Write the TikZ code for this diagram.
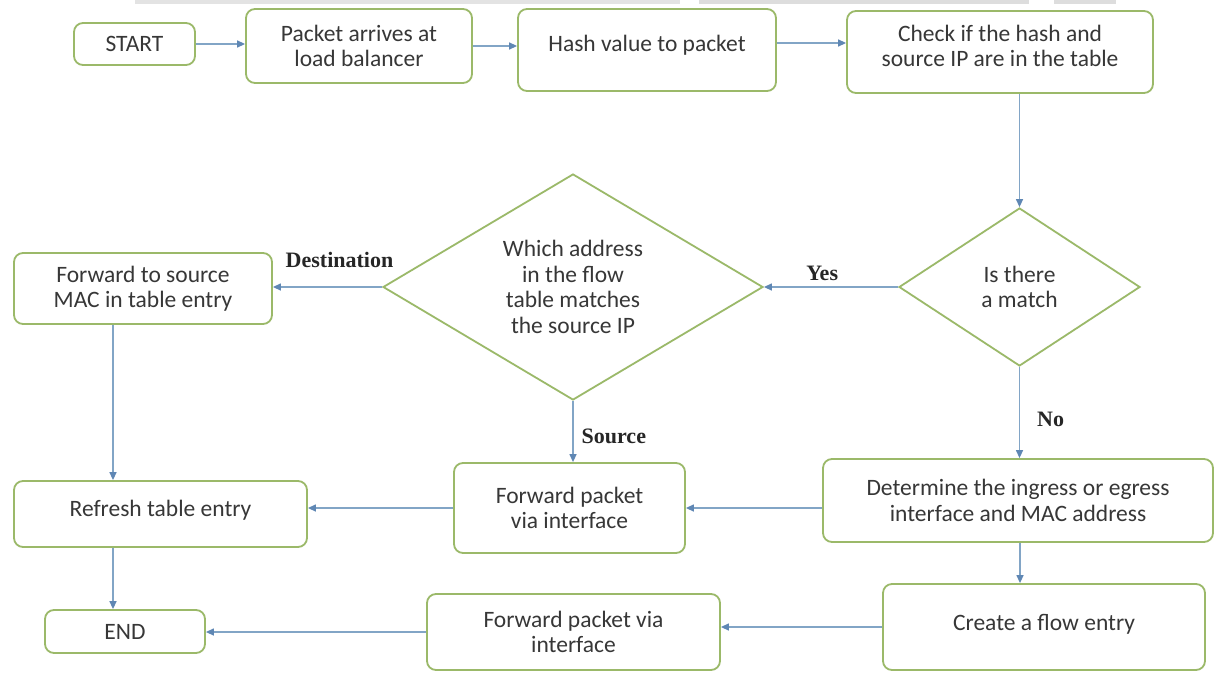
\documentclass[tikz,border=0pt]{standalone}
\usepackage{fontspec}
\newfontfamily\bodyfont{Carlito}
\newfontfamily\lblfont{Liberation Serif}
\usetikzlibrary{shapes.geometric,arrows.meta}
\definecolor{boxgreen}{RGB}{155,185,105}
\definecolor{arrowblue}{RGB}{130,165,198}
\definecolor{tipblue}{RGB}{95,135,180}
\definecolor{txt}{RGB}{55,55,55}
\begin{document}
\begin{tikzpicture}[x=1pt,y=-1pt,
 box/.style={draw=boxgreen, line width=1.8pt, rounded corners=9pt, fill=white, align=center, inner sep=0pt,
   font=\bodyfont\fontsize{23.5}{25.5}\selectfont, text=txt},
 dia/.style={draw=boxgreen, line width=1.8pt, diamond, fill=white, align=center, inner sep=0pt,
   font=\bodyfont\fontsize{23.5}{25.5}\selectfont, text=txt},
 conn/.style={draw=arrowblue, line width=1.3pt, -{Triangle[length=8pt,width=7pt,color=tipblue]}},
 lbl/.style={font=\lblfont\bfseries\fontsize{22}{24}\selectfont, text=black!85, inner sep=0pt}
]
\fill[white] (0,0) rectangle (1217,672);
\useasboundingbox (0,0) rectangle (1217,672);
\fill[gray!22] (135,0) rectangle (680,4);
\fill[gray!27] (699,0) rectangle (1029,4);
\fill[gray!27] (1054,0) rectangle (1116,4);

\node[box, minimum width=121pt, minimum height=42pt] (start) at (134.5,44) {START};
\node[box, minimum width=226pt, minimum height=74pt] (packet) at (359,46) {Packet arrives at\\load balancer};
\node[box, minimum width=258pt, minimum height=82pt, text height=16pt, text depth=14pt] (hash) at (647,50) {Hash value to packet};
\node[box, minimum width=306pt, minimum height=82pt] (check) at (1000,52) {Check if the hash and\\source IP are in the table\\[-13pt]\mbox{}};
\node[dia, minimum width=241pt, minimum height=158pt, shape aspect=1.5] (match) at (1019.5,287) {Is there\\a match};
\node[dia, minimum width=380pt, minimum height=226pt, shape aspect=1.68] (which) at (573,287) {Which address\\in the flow\\table matches\\the source IP};
\node[box, minimum width=258pt, minimum height=71pt] (fwdsrc) at (143,288.5) {Forward to source\\MAC in table entry};
\node[box, minimum width=293pt, minimum height=66pt, text height=16pt, text depth=12pt] (refresh) at (160.5,514) {Refresh table entry};
\node[box, minimum width=231pt, minimum height=90pt] (fwdmid) at (569.5,508) {Forward packet\\via interface};
\node[box, minimum width=390pt, minimum height=83pt] (determine) at (1018,500.5) {Determine the ingress or egress\\interface and MAC address};
\node[box, minimum width=322pt, minimum height=86pt, text height=16pt, text depth=10pt] (create) at (1044,627) {Create a flow entry};
\node[box, minimum width=293pt, minimum height=76pt] (fwdbot) at (573.5,632) {Forward packet via\\interface};
\node[box, minimum width=160pt, minimum height=43pt] (end) at (125,631.5) {END};

\draw[conn] (start.east) -- (start.east -| packet.west);
\draw[conn] (packet.east) -- (packet.east -| hash.west);
\draw[conn] ([yshift=7pt]hash.east) -- ([yshift=7pt]hash.east -| check.west);
\draw[conn] (match.north |- check.south) -- (match.north);
\draw[conn] (match.west) -- (which.east) node[lbl, pos=0.566, anchor=base, yshift=7pt] {Yes};
\draw[conn] (which.west) -- (which.west -| fwdsrc.east) node[lbl, pos=0.39, anchor=base, yshift=20pt] {Destination};
\draw[conn] (which.south) -- (which.south |- fwdmid.north) node[lbl, pos=0.69, anchor=base west, xshift=8pt] {Source};
\draw[conn] (match.south) -- (match.south |- determine.north) node[lbl, pos=0.65, anchor=base west, xshift=17pt] {No};
\draw[conn] ([xshift=-30pt]fwdsrc.south) -- ([xshift=-30pt]fwdsrc.south |- refresh.north);
\draw[conn] (fwdmid.east -| determine.west) -- (fwdmid.east);
\draw[conn] (fwdmid.west) -- (fwdmid.west -| refresh.east);
\draw[conn] ([xshift=-47.5pt]refresh.south) -- ([xshift=-47.5pt]refresh.south |- end.north);
\draw[conn] ([xshift=2pt]determine.south) -- ([xshift=2pt]determine.south |- create.north);
\draw[conn] (create.west) -- (create.west -| fwdbot.east);
\draw[conn] (fwdbot.west) -- (fwdbot.west -| end.east);
\end{tikzpicture}
\end{document}
